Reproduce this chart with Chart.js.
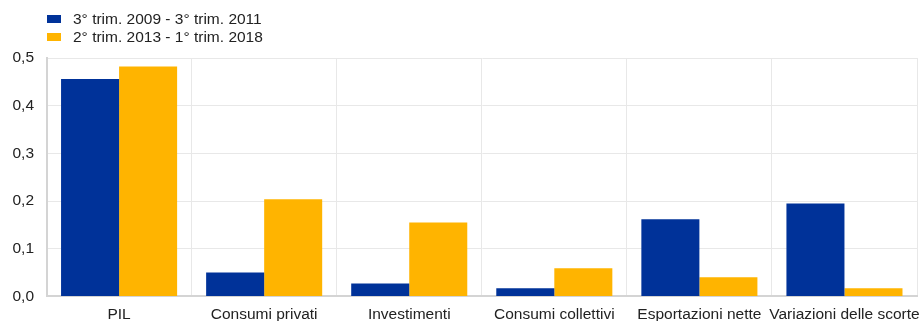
<!DOCTYPE html>
<html>
<head>
<meta charset="utf-8">
<script src="https://cdn.jsdelivr.net/npm/chart.js@4/dist/chart.umd.min.js"></script>
<style>
  html, body { margin: 0; padding: 0; background: #fff; overflow: hidden; }
  #wrap { position: relative; width: 923px; height: 321px; }
  #legend { position: absolute; left: 47px; top: 10px; font: 15.5px "Liberation Sans", Arial, sans-serif; color: #222; }
  .item { height: 18px; line-height: 18px; white-space: nowrap; }
  .box { display: inline-block; width: 14px; height: 8px; margin-right: 12px; vertical-align: 1px; }
</style>
</head>
<body>
<div id="wrap">
  <div id="legend"></div>
  <canvas id="bar_chart" width="923" height="321"></canvas>
</div>
<script>
var categories = ["PIL", "Consumi privati", "Investimenti", "Consumi collettivi", "Esportazioni nette", "Variazioni delle scorte"];
var series1Label = "3° trim. 2009 - 3° trim. 2011";
var series2Label = "2° trim. 2013 - 1° trim. 2018";
var series1 = [0.456, 0.050, 0.027, 0.017, 0.162, 0.195];
var series2 = [0.482, 0.204, 0.155, 0.059, 0.040, 0.017];
var yTicks = [0, 0.1, 0.2, 0.3, 0.4, 0.5];

var blue = "#003299";
var orange = "#FFB400";

// legend as plain html, one entry per line
var legendDiv = document.getElementById("legend");
[[series1Label, blue], [series2Label, orange]].forEach(function (s) {
  var row = document.createElement("div");
  row.className = "item";
  row.innerHTML = '<span class="box" style="background:' + s[1] + '"></span>' + s[0];
  legendDiv.appendChild(row);
});

var ctx = document.getElementById("bar_chart");
var bar_chart = new Chart(ctx, {
  type: 'bar',
  data: {
    labels: categories,
    datasets: [
      { label: series1Label, data: series1, backgroundColor: blue, borderWidth: 0 },
      { label: series2Label, data: series2, backgroundColor: orange, borderWidth: 0 }
    ]
  },
  options: {
    responsive: false,
    animation: false,
    devicePixelRatio: 1,
    layout: { padding: { top: 58, left: 0, right: 6, bottom: -13 } },
    datasets: { bar: { categoryPercentage: 0.8, barPercentage: 1.0 } },
    plugins: { legend: { display: false }, tooltip: { enabled: false } },
    scales: {
      x: {
        // last label may run past the plot edge, like in the original
        afterFit: function (axis) { axis.paddingLeft = 0; axis.paddingRight = 0; },
        grid: { offset: true, color: "#e8e8e8", lineWidth: 1, drawTicks: false },
        border: { color: "#d4d4d4", width: 2 },
        ticks: { color: "#222", font: { family: "Liberation Sans", size: 15.5 }, padding: 9.5, maxRotation: 0, autoSkip: false }
      },
      y: {
        min: 0,
        max: 0.5,
        afterBuildTicks: function (axis) {
          axis.ticks = yTicks.map(function (v) { return { value: v }; });
        },
        grid: { color: "#e8e8e8", lineWidth: 1, drawTicks: false },
        border: { color: "#d4d4d4", width: 2 },
        ticks: {
          color: "#222",
          font: { family: "Liberation Sans", size: 15.5 },
          padding: 12.5,
          callback: function (v) { return v.toFixed(1).replace('.', ','); }
        }
      }
    }
  }
});
</script>
</body>
</html>
